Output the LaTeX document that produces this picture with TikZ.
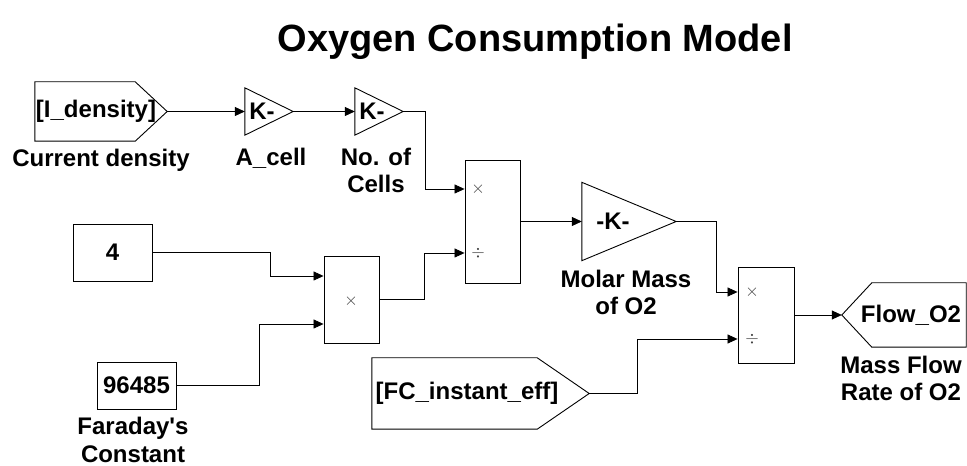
\documentclass[tikz,border=0pt]{standalone}
\usepackage{fontspec}
\setmainfont{Liberation Sans}
\usetikzlibrary{arrows.meta}
\usetikzlibrary{positioning}
\usetikzlibrary{calc}

\newcommand{\blkfont}{\fontsize{24}{27.5}\selectfont\bfseries}

\begin{document}
\begin{tikzpicture}[x=1pt,y=1pt,
    blk/.style={draw,line width=0.9pt,inner sep=0pt,font=\blkfont},
    hid/.style={inner sep=0pt,font=\blkfont},
    outl/.style={line width=0.9pt},
    lbl/.style={inner sep=0pt,align=center,font=\blkfont,anchor=north},
    sig/.style={line width=0.7pt,-{Triangle[length=10pt,width=9pt]}},
    op/.style={inner sep=0pt,font=\fontsize{19}{19}\selectfont,text=black!75}]
\useasboundingbox (0,0) rectangle (967,466);

% title
\node[font=\fontsize{38}{40}\selectfont\bfseries,anchor=base] (title) at (535,414) {Oxygen Consumption Model};

% from tag: current density
\node[hid,minimum width=122,minimum height=59] (idens) at (96,354.5) {[I\_density]};
\draw[outl] (idens.north west) -- ([xshift=-22]idens.north east) -- ([xshift=10]idens.east) coordinate (idens-o)
  -- ([xshift=-22]idens.south east) -- (idens.south west) -- cycle;
\node[lbl] (idens-l) at (101,317.5) {Current density};

% gains
\node[hid,minimum width=34,minimum height=47] (acell) at (262,354.5) {K-};
\draw[outl] (acell.north west) -- ([xshift=14]acell.east) coordinate (acell-o) -- (acell.south west) -- cycle;
\node[lbl] (acell-l) at (271,318.5) {A\_cell};

\node[hid,minimum width=34,minimum height=47] (cells) at (372,354.5) {K-};
\draw[outl] (cells.north west) -- ([xshift=14]cells.east) coordinate (cells-o) -- (cells.south west) -- cycle;
\node[lbl] (cells-l) at (376,318.5) {No. of\\Cells};

\node[hid,minimum width=62,minimum height=78] (molar) at (613,244.5) {-K-};
\draw[outl] (molar.north west) -- ([xshift=32]molar.east) coordinate (molar-o) -- (molar.south west) -- cycle;
\node[lbl] (molar-l) at (626,196.5) {Molar Mass\\of O2};

% constants
\node[blk,minimum width=79,minimum height=57] (four) at (112.5,213.5) {4};
\node[blk,minimum width=79,minimum height=47] (farad) at (136.5,80.5) {96485};
\node[lbl] (farad-l) at (133,49) {Faraday\textquotesingle s\\Constant};

% products
\node[blk,minimum width=55,minimum height=87] (mul) at (351.5,166.5) {};
\node[op] (mul-m) at (351,165) {$\times$};

\node[blk,minimum width=55,minimum height=123] (div1) at (492.5,244.5) {};
\node[op] (div1-m) at (478,277) {$\times$};
\node[op] (div1-d) at (478,213) {$\div$};

\node[blk,minimum width=56,minimum height=96] (div2) at (766,151) {};
\node[op] (div2-m) at (752,174) {$\times$};
\node[op] (div2-d) at (752,127) {$\div$};

% from tag: efficiency
\node[hid,minimum width=190,minimum height=71] (fce) at (467,72.5) {[FC\_instant\_eff]};
\draw[outl] (fce.north west) -- ([xshift=-25]fce.north east) -- ([xshift=27]fce.east) coordinate (fce-o)
  -- ([xshift=-25]fce.south east) -- (fce.south west) -- cycle;

% goto tag: flow
\node[hid,minimum width=110,minimum height=64] (flow) at (911,151) {Flow\_O2};
\draw[outl] ([xshift=-14]flow.west) coordinate (flow-i) -- ([xshift=16]flow.north west) -- (flow.north east)
  -- (flow.south east) -- ([xshift=16]flow.south west) -- cycle;
\node[lbl] (flow-l) at (901,110.5) {Mass Flow\\Rate of O2};

% signals
\draw[sig] (idens-o) -- (acell.west);
\draw[sig] (acell-o) -- (cells.west);
\draw[sig] (cells-o) -- ++(22,0) |- (div1.west |- div1-m);
\draw[sig] (four.east) -- ++(118,0) |- ([yshift=23.5]mul.west);
\draw[sig] (farad.east) -- ++(83,0) |- ([yshift=-24.5]mul.west);
\draw[sig] (mul.east) -- ++(45,0) |- (div1.west |- div1-d);
\draw[sig] (div1.east) -- (molar.west);
\draw[sig] (molar-o) -- ++(40,0) |- (div2.west |- div2-m);
\draw[sig] (fce-o) -- ++(48,0) |- (div2.west |- div2-d);
\draw[sig] (div2.east) -- (flow-i);
\end{tikzpicture}
\end{document}
